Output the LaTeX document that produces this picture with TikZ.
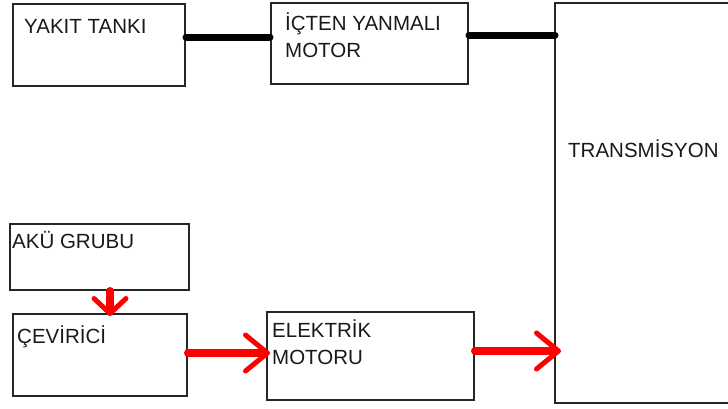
\documentclass[tikz,border=0pt]{standalone}
\usepackage{fontspec}
\setmainfont{Liberation Sans}
\usetikzlibrary{arrows.meta}
\begin{document}
\begin{tikzpicture}[x=1pt,y=-1pt,
  box/.style={draw=black!85, line width=2pt, rectangle, inner sep=0pt, anchor=north west},
  lbl/.style={anchor=base west, inner sep=0pt, align=left, text=black!90,
    font=\fontsize{20.5}{26.5}\selectfont},
  fuel/.style={line width=7pt, line cap=round, black},
  power/.style={line width=8pt, red, line cap=round,
    -{Straight Barb[length=22pt,width=36pt,line width=5pt,round]}},
  smallpower/.style={line width=8pt, red, line cap=round,
    -{Straight Barb[length=15pt,width=32pt,line width=5pt,round]}}]
\useasboundingbox (0,0) rectangle (728,408);
% boxes
\node[box, minimum width=172pt, minimum height=82pt] (yakit) at (12,3) {};
\node[box, minimum width=197pt, minimum height=81pt] (icten) at (270,2) {};
\node[box, minimum width=179pt, minimum height=66pt] (aku) at (9,223) {};
\node[box, minimum width=174pt, minimum height=82pt] (cevirici) at (12,313) {};
\node[box, minimum width=207pt, minimum height=88pt] (elektrik) at (266,311) {};
\node[anchor=north west, minimum width=180pt, minimum height=400pt, inner sep=0pt] (trans) at (555,3) {};
\draw[draw=black!85, line width=2pt] (trans.north east) -- (trans.north west) -- (trans.south west) -- (trans.south east);
% labels
\node[lbl] (tyakit) at (24,33) {YAKIT TANKI};
\node[lbl] (ticten) at (285,57) {İÇTEN YANMALI\\MOTOR};
\node[lbl] (taku) at (12,248) {AKÜ GRUBU};
\node[lbl] (tcev) at (17,343) {ÇEVİRİCİ};
\node[lbl] (telek) at (272,364) {ELEKTRİK\\MOTORU};
\node[lbl] (ttrans) at (568,157) {TRANSMİSYON};
% connectors
\coordinate (y1) at (0,37);
\coordinate (y2) at (0,35);
\coordinate (y3) at (0,353);
\coordinate (y4) at (0,351);
\coordinate (x1) at (110,0);
\draw[fuel] (yakit.east |- y1) -- (icten.west |- y1);
\draw[fuel] (icten.east |- y2) -- (trans.west |- y2);
\draw[smallpower] (aku.south -| x1) -- ([yshift=-3pt]cevirici.north -| x1);
\draw[power] (cevirici.east |- y3) -- ([xshift=4pt]elektrik.west |- y3);
\draw[power] (elektrik.east |- y4) -- ([xshift=6pt]trans.west |- y4);
\end{tikzpicture}
\end{document}
